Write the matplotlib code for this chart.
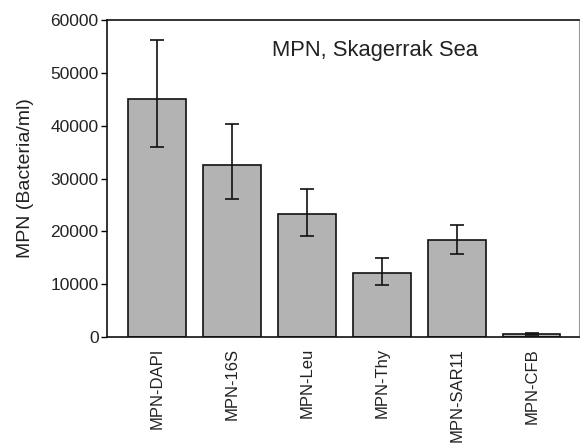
import matplotlib
matplotlib.use("Agg")
import matplotlib.pyplot as plt
import numpy as np

plt.rcParams['font.family'] = ['Liberation Sans', 'DejaVu Sans']

categories = ["MPN-DAPI", "MPN-16S", "MPN-Leu", "MPN-Thy", "MPN-SAR11", "MPN-CFB"]
values = [45000, 32500, 23200, 12100, 18400, 600]
err_upper = [56200, 40400, 28100, 14900, 21200, 750]
err_lower = [36000, 26100, 19100, 9750, 15700, 450]
yticks = [0, 10000, 20000, 30000, 40000, 50000, 60000]

fig = plt.figure(figsize=(5.8, 4.46), dpi=100)
ax = fig.add_axes([0.1845, 0.2444, 0.8135, 0.7106])

x = np.arange(len(categories))
vals = np.array(values)
yerr = np.array([vals - np.array(err_lower), np.array(err_upper) - vals])
ax.bar(x, vals, width=0.77, color="#b3b3b3", edgecolor="#111111", linewidth=1.2, zorder=2)
ax.errorbar(x, vals, yerr=yerr, fmt="none", ecolor="#111111", elinewidth=1.2,
            capsize=5, capthick=1.2, zorder=3)

ax.set_xlim(-0.67, 5.63)
ax.set_ylim(0, 60000)
ax.set_yticks(yticks)
ax.set_yticklabels([str(t) for t in yticks], fontsize=12.5, color="#222222")
ax.set_xticks(x)
ax.set_xticklabels(categories, rotation=90, fontsize=12, color="#222222")
ax.tick_params(axis="x", length=0, pad=8)
ax.tick_params(axis="y", length=4, width=1, direction="out", pad=2)
ax.set_ylabel("MPN (Bacteria/ml)", fontsize=14, color="#222222", labelpad=12)

for s in ["left", "bottom", "top"]:
    ax.spines[s].set_linewidth(1.2)
    ax.spines[s].set_color("#111111")
ax.spines["right"].set_color("#999999")
ax.spines["right"].set_linewidth(0.8)

ax.text(0.568, 0.905, "MPN, Skagerrak Sea", transform=ax.transAxes, ha="center",
        va="center", fontsize=15.8, color="#222222")

fig.savefig("out.png", dpi=100)
